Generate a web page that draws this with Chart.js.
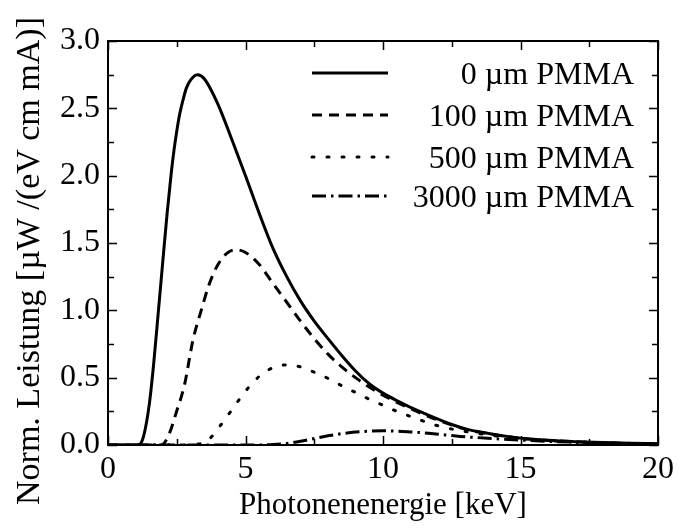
<!DOCTYPE html>
<html>
<head>
<meta charset="utf-8">
<script src="https://cdn.jsdelivr.net/npm/chart.js@4/dist/chart.umd.min.js"></script>
<style>
  html, body { margin: 0; padding: 0; background: #ffffff; }
  #wrap { width: 679px; height: 528px; position: relative; }
</style>
</head>
<body>
<div id="wrap"><canvas id="c" width="679" height="528"></canvas></div>
<script>
// ---- data ----
const seriesLabels = ["0 \u00b5m PMMA", "100 \u00b5m PMMA", "500 \u00b5m PMMA", "3000 \u00b5m PMMA"];

const energy0 = [0, 1.0, 1.15, 1.3, 1.5, 1.65, 1.8, 2.0, 2.15, 2.3, 2.4, 2.5, 2.6, 2.75, 2.85, 3.0, 3.25, 3.5, 4.0, 4.5, 5.0, 5.5, 6.0, 6.5, 7.0, 7.5, 8.0, 8.5, 9.0, 9.5, 10, 10.5, 11, 11.5, 12, 12.5, 13, 13.5, 14, 14.5, 15, 16, 17, 18, 19, 20];
const power0  = [0, 0, 0.005, 0.07, 0.3, 0.58, 0.92, 1.38, 1.72, 2.02, 2.19, 2.33, 2.45, 2.58, 2.65, 2.71, 2.75, 2.72, 2.53, 2.27, 2.0, 1.72, 1.46, 1.25, 1.07, 0.92, 0.79, 0.665, 0.55, 0.455, 0.385, 0.33, 0.28, 0.235, 0.192, 0.152, 0.12, 0.098, 0.08, 0.064, 0.051, 0.035, 0.025, 0.018, 0.013, 0.01];

const energy100 = [0, 1.9, 2.0, 2.24, 2.48, 2.78, 3.09, 3.39, 3.69, 4.0, 4.3, 4.65, 5.0, 5.5, 6.0, 6.5, 7.0, 7.5, 8.0, 8.5, 9.0, 9.5, 10, 11, 12, 13, 14, 15, 16, 17, 18, 19, 20];
const power100  = [0, 0, 0.005, 0.09, 0.24, 0.445, 0.78, 1.0, 1.2, 1.34, 1.42, 1.45, 1.43, 1.34, 1.2, 1.06, 0.92, 0.79, 0.675, 0.58, 0.5, 0.43, 0.37, 0.27, 0.185, 0.117, 0.078, 0.05, 0.034, 0.024, 0.017, 0.012, 0.009];

const energy500 = [0, 2.6, 3.2, 3.6, 4.05, 4.5, 5.0, 5.5, 6.0, 6.5, 7.0, 7.5, 8.0, 8.5, 9.0, 9.5, 10, 10.5, 11, 11.5, 12, 13, 14, 15, 16, 17, 18, 19, 20];
const power500  = [0, 0, 0.005, 0.028, 0.135, 0.26, 0.4, 0.51, 0.575, 0.595, 0.58, 0.54, 0.495, 0.44, 0.39, 0.34, 0.295, 0.25, 0.212, 0.175, 0.142, 0.1, 0.07, 0.048, 0.033, 0.023, 0.016, 0.011, 0.008];

const energy3000 = [0, 5.5, 6.0, 6.5, 7.0, 7.5, 8.0, 8.5, 9.0, 9.5, 10, 10.5, 11, 11.5, 12, 12.8, 14, 15, 16, 17, 18, 19, 20];
const power3000  = [0, 0, 0.003, 0.012, 0.028, 0.048, 0.068, 0.084, 0.096, 0.103, 0.105, 0.103, 0.097, 0.09, 0.08, 0.064, 0.048, 0.037, 0.027, 0.02, 0.014, 0.01, 0.007];

const xTicks = [0, 5, 10, 15, 20];
const yTicks = [0.0, 0.5, 1.0, 1.5, 2.0, 2.5, 3.0];
const xTitle = "Photonenenergie [keV]";
const yTitle = "Norm. Leistung [\u00b5W /(eV cm mA)]";

// ---- styles ----
const FONT = "'Liberation Serif', 'Times New Roman', serif";
const dashes = [[], [10, 7], [2, 13], [14, 5, 2.5, 5]];

function pts(xs, ys) { return xs.map((x, i) => ({ x: x, y: ys[i] })); }

const dataSets = [
  pts(energy0, power0),
  pts(energy100, power100),
  pts(energy500, power500),
  pts(energy3000, power3000)
];

const frameTicks = {
  id: 'frameTicks',
  afterDatasetsDraw(chart) {
    const ctx = chart.ctx;
    const a = chart.chartArea;
    const xs = chart.scales.x, ys = chart.scales.y;
    ctx.save();
    ctx.strokeStyle = '#000';
    ctx.lineWidth = 1.5;
    for (let v = 0; v <= 20.001; v += 2.5) {
      const major = Math.abs(v / 5 - Math.round(v / 5)) < 1e-6;
      const L = major ? 9 : 6;
      const px = Math.round(xs.getPixelForValue(v)) + 0.5;
      ctx.beginPath();
      ctx.moveTo(px, a.bottom); ctx.lineTo(px, a.bottom - L);
      ctx.moveTo(px, a.top); ctx.lineTo(px, a.top + L);
      ctx.stroke();
    }
    for (let v = 0; v <= 3.0001; v += 0.25) {
      const major = Math.abs(v / 0.5 - Math.round(v / 0.5)) < 1e-6;
      const L = major ? 9 : 6;
      const py = Math.round(ys.getPixelForValue(v)) + 0.5;
      ctx.beginPath();
      ctx.moveTo(a.left, py); ctx.lineTo(a.left + L, py);
      ctx.moveTo(a.right, py); ctx.lineTo(a.right - L, py);
      ctx.stroke();
    }
    ctx.lineWidth = 2;
    ctx.strokeRect(a.left, a.top, a.right - a.left, a.bottom - a.top);

    // legend
    const rows = [73, 115, 157, 196];
    ctx.font = "32px " + FONT;
    ctx.fillStyle = '#000';
    ctx.textAlign = 'right';
    ctx.textBaseline = 'alphabetic';
    rows.forEach((y, i) => {
      ctx.save();
      ctx.lineWidth = 3;
      ctx.setLineDash(dashes[i]);
      ctx.lineCap = i === 2 ? 'round' : 'butt';
      ctx.beginPath();
      ctx.moveTo(312, y); ctx.lineTo(388, y);
      ctx.stroke();
      ctx.restore();
      ctx.fillText(seriesLabels[i], 634, y + 11);
    });

    // axis titles
    ctx.font = "31px " + FONT;
    ctx.textAlign = 'center';
    ctx.textBaseline = 'middle';
    ctx.fillText(xTitle, (a.left + a.right) / 2, 506);
    ctx.save();
    ctx.font = "34px " + FONT;
    ctx.translate(30, 261);
    ctx.rotate(-Math.PI / 2);
    ctx.fillText(yTitle, 0, 0);
    ctx.restore();
    ctx.restore();
  }
};

new Chart(document.getElementById('c'), {
  type: 'line',
  data: {
    datasets: dataSets.map((d, i) => ({
      label: seriesLabels[i],
      data: d,
      borderColor: '#000',
      backgroundColor: '#000',
      borderWidth: 3,
      borderDash: dashes[i],
      borderCapStyle: i === 2 ? 'round' : 'butt',
      pointRadius: 0,
      fill: false,
      cubicInterpolationMode: 'monotone'
    }))
  },
  options: {
    responsive: false,
    animation: false,
    devicePixelRatio: 1,
    layout: { padding: { left: 0, right: 18, top: 41, bottom: 0 } },
    plugins: { legend: { display: false }, tooltip: { enabled: false } },
    scales: {
      x: {
        type: 'linear', min: 0, max: 20,
        afterBuildTicks: s => { s.ticks = xTicks.map(v => ({ value: v })); },
        afterFit: s => { s.height = 83; },
        grid: { display: false, drawTicks: false },
        border: { display: false },
        ticks: { color: '#000', font: { family: FONT, size: 32 }, padding: 5, maxRotation: 0, autoSkip: false }
      },
      y: {
        type: 'linear', min: 0, max: 3,
        afterBuildTicks: s => { s.ticks = yTicks.map(v => ({ value: v })); },
        afterFit: s => { s.width = 108; },
        grid: { display: false, drawTicks: false },
        border: { display: false },
        ticks: { color: '#000', font: { family: FONT, size: 32 }, padding: 8, callback: v => Number(v).toFixed(1), autoSkip: false }
      }
    }
  },
  plugins: [frameTicks]
});
</script>
</body>
</html>
